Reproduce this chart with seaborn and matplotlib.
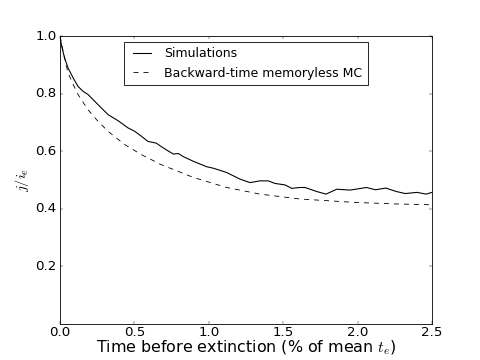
import matplotlib
matplotlib.use("Agg")
import matplotlib.pyplot as plt
import seaborn as sns

# simulated ratio j/i_e vs time before extinction
sim_t = [0.0, 0.009, 0.03, 0.054, 0.09, 0.121, 0.155, 0.188, 0.255, 0.323, 0.39,
         0.457, 0.502, 0.547, 0.591, 0.647, 0.672, 0.714, 0.762, 0.795, 0.829,
         0.896, 0.986, 1.03, 1.12, 1.21, 1.277, 1.344, 1.40, 1.445, 1.512,
         1.557, 1.613, 1.647, 1.725, 1.788, 1.86, 1.95, 2.06, 2.12, 2.19,
         2.26, 2.32, 2.40, 2.46, 2.5]
sim_r = [1.0, 0.970, 0.925, 0.889, 0.853, 0.825, 0.808, 0.797, 0.762, 0.727, 0.706,
         0.681, 0.669, 0.652, 0.634, 0.628, 0.619, 0.605, 0.590, 0.592, 0.581,
         0.565, 0.546, 0.541, 0.526, 0.503, 0.491, 0.497, 0.497, 0.488, 0.483,
         0.471, 0.474, 0.474, 0.460, 0.451, 0.468, 0.465, 0.474, 0.466, 0.472,
         0.460, 0.453, 0.457, 0.451, 0.457]

# backward-time memoryless Markov chain prediction
mc_t = [0.0, 0.02, 0.054, 0.09, 0.121, 0.188, 0.255, 0.323, 0.435, 0.547, 0.636,
        0.672, 0.896, 1.12, 1.344, 1.613, 1.99, 2.25, 2.5]
mc_r = [1.0, 0.95, 0.872, 0.830, 0.797, 0.744, 0.704, 0.669, 0.623, 0.588, 0.565,
        0.555, 0.509, 0.474, 0.451, 0.434, 0.422, 0.417, 0.414]

plt.style.use('classic')
fig = plt.figure(figsize=(8, 6), dpi=60)
ax = fig.add_subplot(111)

sns.lineplot(x=sim_t, y=sim_r, ax=ax, color='black', linewidth=1.3,
             label='Simulations')
sns.lineplot(x=mc_t, y=mc_r, ax=ax, color='black', linewidth=1.0,
             linestyle='--', label='Backward-time memoryless MC')

ax.set_xlim(0, 2.5)
ax.set_ylim(0, 1.0)
ax.set_yticks([0.2, 0.4, 0.6, 0.8, 1.0])
ax.tick_params(labelsize=16)
ax.tick_params(axis='x', pad=3)
ax.set_xlabel('Time before extinction (% of mean $t_e$)', fontsize=19,
              labelpad=-1)
ax.set_ylabel('$j/i_e$', fontsize=17)
ax.legend(loc='upper center', fontsize=15)

fig.savefig('out.png', dpi=60)
